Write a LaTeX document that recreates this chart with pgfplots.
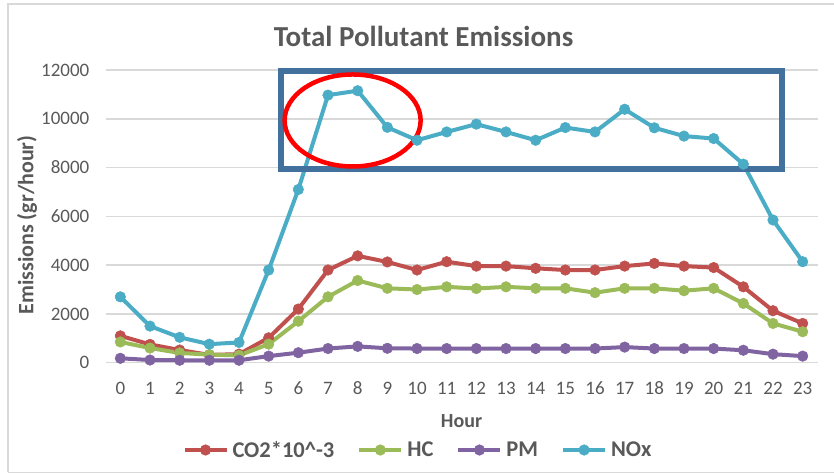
\documentclass[border=0pt]{standalone}
\usepackage{pgfplots}
\pgfplotsset{compat=1.18}
\usepackage{fontspec}
\setmainfont{Carlito}
\definecolor{txt}{HTML}{595959}
\definecolor{grd}{HTML}{D9D9D9}
\definecolor{cred}{HTML}{C0504D}
\definecolor{cgreen}{HTML}{9BBB59}
\definecolor{cpurple}{HTML}{8064A2}
\definecolor{ccyan}{HTML}{4BACC6}
\definecolor{boxc}{HTML}{41719C}
\pgfplotstableread{
h co2 hc pm nox
0 1100 850 180 2700
1 750 600 110 1500
2 520 400 100 1040
3 320 330 100 760
4 350 300 100 830
5 1020 760 270 3800
6 2200 1700 410 7100
7 3800 2700 580 10970
8 4380 3370 670 11150
9 4130 3050 590 9650
10 3800 3000 580 9120
11 4140 3110 580 9460
12 3960 3040 580 9780
13 3960 3110 580 9460
14 3870 3050 580 9120
15 3800 3050 580 9640
16 3800 2870 580 9460
17 3960 3050 640 10390
18 4070 3050 580 9630
19 3960 2950 580 9290
20 3900 3050 580 9190
21 3110 2430 510 8140
22 2130 1610 350 5850
23 1610 1270 270 4140
}\datatab
\begin{document}
\begin{tikzpicture}[x=1pt,y=1pt]
\useasboundingbox (0,0) rectangle (834,473);
\draw[grd, line width=1.5pt] (8,0.75) -- (8,469) -- (834,469);
\draw[grd, line width=1pt] (8,0.5) -- (834,0.5);
\node[font=\fontsize{29}{32}\selectfont\bfseries, text=txt] at (423.5,436.3) {Total Pollutant Emissions};
\begin{axis}[
  at={(105.5pt,110.3pt)}, anchor=south west,
  width=712pt, height=292.7pt, scale only axis,
  xmin=-0.5, xmax=23.5, ymin=0, ymax=12000,
  xtick={0,...,23}, ytick={0,2000,...,12000},
  scaled y ticks=false,
  axis line style={draw=none},
  major tick length=0pt,
  ymajorgrids, grid style={grd, line width=1.5pt},
  /pgf/number format/assume math mode=true,
  /pgf/number format/1000 sep={},
  yticklabel style={font=\fontsize{19}{21}\selectfont, text=txt, anchor=east, inner sep=0pt, xshift=-16pt},
  xticklabel style={font=\fontsize{19}{21}\selectfont, text=txt, anchor=north, inner sep=0pt, yshift=-19pt},
  xlabel={Hour},
  xlabel style={at={(axis description cs:0.5,-0.1992)}, anchor=center, font=\fontsize{20}{24}\selectfont\bfseries, text=txt},
  ylabel={Emissions (gr/hour)},
  ylabel style={at={(axis description cs:-0.1014,0.4705)}, anchor=base, font=\fontsize{22}{25}\selectfont\bfseries, text=txt},
  clip=false,
  legend columns=4,
  legend image code/.code={\draw[mark repeat=2,mark phase=2,#1] plot coordinates {(0pt,0pt) (21pt,0pt) (42pt,0pt)};},
  legend style={at={(axis description cs:0.4374,-0.2983)}, anchor=center, draw=none, fill=none,
    font=\fontsize{22.5}{26}\selectfont\bfseries, text=txt,
    nodes={inner sep=0pt},
    /tikz/every odd column/.append style={column sep=4pt},
    /tikz/every even column/.append style={column sep=23pt}},
  every axis plot/.append style={line width=4pt, line join=round, mark=*, mark size=5.3pt, mark options={line width=0.5pt}},
]
\addplot[color=cred] table[x=h,y=co2] {\datatab};
\addlegendentry{CO2*10\textasciicircum-3}
\addplot[color=cgreen] table[x=h,y=hc] {\datatab};
\addlegendentry{HC}
\addplot[color=cpurple] table[x=h,y=pm] {\datatab};
\addlegendentry{PM}
\addplot[color=ccyan] table[x=h,y=nox] {\datatab};
\addlegendentry{NOx}
\draw[boxc, line width=5.5pt] (axis cs:5.42,7941) rectangle (axis cs:22.30,11959);
\draw[red, line width=4.5pt] (axis cs:7.83,9930) ellipse [x radius=68pt, y radius=46pt];
\end{axis}
\end{tikzpicture}
\end{document}
